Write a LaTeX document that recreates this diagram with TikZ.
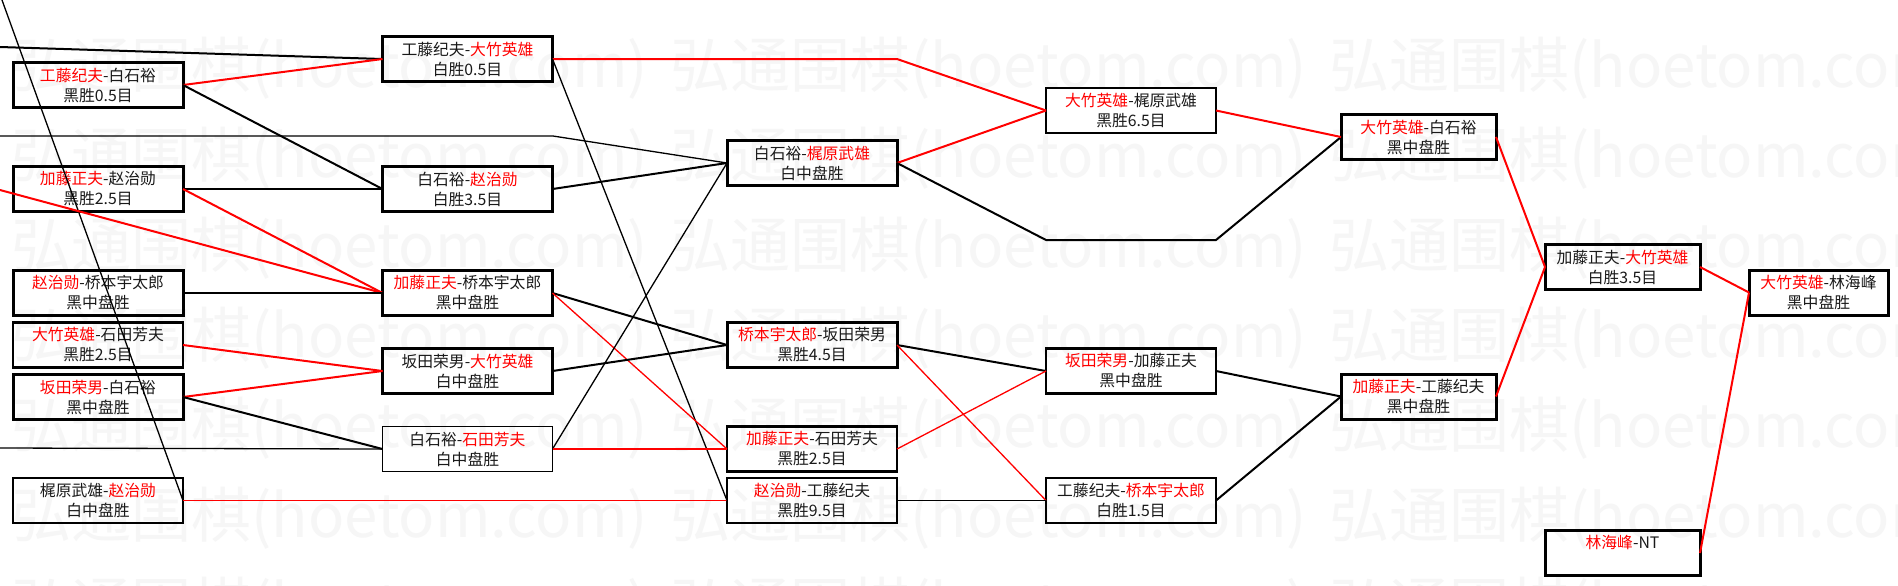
\documentclass[tikz,border=0pt]{standalone}
\usepackage{fontspec}
\setmainfont{Noto Sans CJK SC}
\newcommand{\rd}[1]{\textcolor{red}{#1}}
\tikzset{
  box/.style={draw=black, rectangle, inner sep=0pt, outer sep=0pt, minimum height=22.5pt,
    align=center, text=black!90, font=\fontsize{7.9pt}{10pt}\selectfont},
  wideb/.style={box, minimum width=85pt},
  midb/.style={box, minimum width=77.5pt},
  narb/.style={box, minimum width=69.5pt},
  bthick/.style={line width=1.5pt},
  bmed/.style={line width=1.05pt},
  bthin/.style={line width=0.8pt},
  rl/.style={draw=red, line width=1pt},
  rlt/.style={draw=red, line width=0.65pt},
  bl/.style={draw=black, line width=1pt},
  blt/.style={draw=black, line width=0.65pt},
  wm/.style={text=black!3.5, inner sep=0pt, font=\fontsize{30pt}{30pt}\selectfont}
}
\begin{document}
\begin{tikzpicture}[x=0.5pt,y=-0.5pt]
\useasboundingbox (0,0) rectangle (1898,585);
\fill[white] (0,0) rectangle (1898,585);
\begin{scope}
\clip (0,0) rectangle (1898,585);
\foreach \r in {0,...,6}{
  \foreach \c in {0,1,2}{
    \node[wm, anchor=west] (wm-\r-\c) at ({11+659*\c}, {68+90*\r}) {弘通围棋(hoetom.com)};
  }
}
\end{scope}

% column 1
\node[wideb, bthick] (A1) at (98,85)    {\rd{工藤纪夫}-白石裕\\黑胜0.5目};
\node[wideb, bthick] (A2) at (98,189)   {\rd{加藤正夫}-赵治勋\\黑胜2.5目};
\node[wideb, bthick] (A3) at (98,293)   {\rd{赵治勋}-桥本宇太郎\\黑中盘胜};
\node[wideb, bmed]   (A4) at (98,345)   {\rd{大竹英雄}-石田芳夫\\黑胜2.5目};
\node[wideb, bthick] (A5) at (98,397)   {\rd{坂田荣男}-白石裕\\黑中盘胜};
\node[wideb, bthin]  (A6) at (98,500.5) {梶原武雄-\rd{赵治勋}\\白中盘胜};
% column 2
\node[wideb, bmed]   (B1) at (467.5,59)  {工藤纪夫-\rd{大竹英雄}\\白胜0.5目};
\node[wideb, bmed]   (B2) at (467.5,189) {白石裕-\rd{赵治勋}\\白胜3.5目};
\node[wideb, bthick] (B3) at (467.5,293) {\rd{加藤正夫}-桥本宇太郎\\黑中盘胜};
\node[wideb, bthick] (B4) at (467.5,371) {坂田荣男-\rd{大竹英雄}\\白中盘胜};
\node[wideb, bthin]  (B5) at (467.5,449) {白石裕-\rd{石田芳夫}\\白中盘胜};
% column 3
\node[wideb, bthick] (C1) at (812,163)   {白石裕-\rd{梶原武雄}\\白中盘胜};
\node[wideb, bthick] (C2) at (812,345)   {\rd{桥本宇太郎}-坂田荣男\\黑胜4.5目};
\node[wideb, bmed]   (C3) at (812,449)   {\rd{加藤正夫}-石田芳夫\\黑胜2.5目};
\node[wideb, bmed]   (C4) at (812,500.5) {\rd{赵治勋}-工藤纪夫\\黑胜9.5目};
% column 4
\node[wideb, bmed]   (D1) at (1131,110.5) {\rd{大竹英雄}-梶原武雄\\黑胜6.5目};
\node[wideb, bmed]   (D2) at (1131,371)   {\rd{坂田荣男}-加藤正夫\\黑中盘胜};
\node[wideb, bmed]   (D3) at (1131,500.5) {工藤纪夫-\rd{桥本宇太郎}\\白胜1.5目};
% column 5
\node[midb, bthick]  (E1) at (1418.5,137)   {\rd{大竹英雄}-白石裕\\黑中盘胜};
\node[midb, bthick]  (E2) at (1418.5,396.5) {\rd{加藤正夫}-工藤纪夫\\黑中盘胜};
% column 6
\node[midb, bthick]  (F1) at (1622.5,267) {加藤正夫-\rd{大竹英雄}\\白胜3.5目};
\node[midb, bthick]  (F2) at (1622.5,553) {\rd{林海峰}-NT\\\phantom{黑}};
% column 7
\node[narb, bthick]  (G1) at (1818.5,292.5) {\rd{大竹英雄}-林海峰\\黑中盘胜};

% free ends and bends
\coordinate (L0) at (2,0);
\coordinate (L1) at (0,47);
\coordinate (L2) at (0,136);
\coordinate (K2) at (553,136);
\coordinate (L3) at (0,190);
\coordinate (L4) at (0,448);
\coordinate (K1) at (897,59);
\coordinate (K3) at (1046,240);
\coordinate (K4) at (1216,240);

% incoming from the left
\draw[blt] (L0) -- (A6.east);
\draw[bl]  (L1) -- (B1.west);
\draw[blt] (L2) -- (K2) -- (C1.west);
\draw[rl]  (L3) -- (B3.west);
\draw[blt] (L4) -- (B5.west);

% column 1 -> 2
\draw[rl] (A1.east) -- (B1.west);
\draw[bl] (A1.east) -- (B2.west);
\draw[bl] (A2.east) -- (B2.west);
\draw[rl] (A2.east) -- (B3.west);
\draw[bl] (A3.east) -- (B3.west);
\draw[rl] (A4.east) -- (B4.west);
\draw[rl] (A5.east) -- (B4.west);
\draw[bl] (A5.east) -- (B5.west);
\draw[rlt] (A6.east) -- (C4.west);

% column 2 -> 3
\draw[rl]  (B1.east) -- (K1) -- (D1.west);
\draw[blt] (B1.east) -- (C4.west);
\draw[bl]  (B2.east) -- (C1.west);
\draw[bl]  (B3.east) -- (C2.west);
\draw[rlt] (B3.east) -- (C3.west);
\draw[bl]  (B4.east) -- (C2.west);
\draw[blt] (B5.east) -- (C1.west);
\draw[rlt] (B5.east) -- (C3.west);

% column 3 -> 4
\draw[rl]  (C1.east) -- (D1.west);
\draw[bl]  (C1.east) -- (K3) -- (K4) -- (E1.west);
\draw[bl]  (C2.east) -- (D2.west);
\draw[rlt] (C2.east) -- (D3.west);
\draw[rlt] (C3.east) -- (D2.west);
\draw[blt] (C4.east) -- (D3.west);

% column 4 -> 5
\draw[rl] (D1.east) -- (E1.west);
\draw[bl] (D2.east) -- (E2.west);
\draw[bl] (D3.east) -- (E2.west);

% column 5 -> 6
\draw[rl] (E1.east) -- (F1.west);
\draw[rl] (E2.east) -- (F1.west);

% column 6 -> 7
\draw[rl] (F1.east) -- (G1.west);
\draw[rl] (F2.east) -- (G1.west);
\end{tikzpicture}
\end{document}
